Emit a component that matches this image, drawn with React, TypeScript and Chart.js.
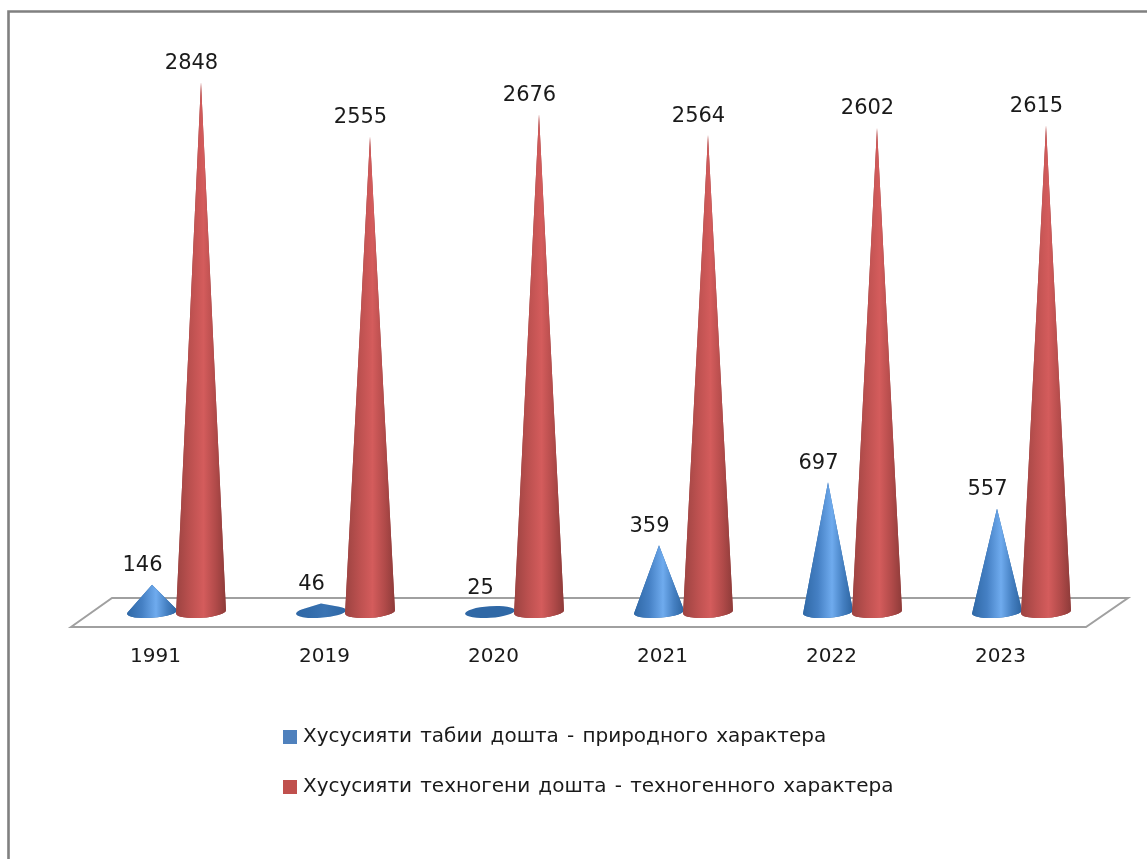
import React, { useEffect, useRef } from "react";
import { Chart, registerables } from "chart.js";

Chart.register(...registerables);

const categories = ["1991", "2019", "2020", "2021", "2022", "2023"];
const naturalValues = [146, 46, 25, 359, 697, 557];
const technogenicValues = [2848, 2555, 2676, 2564, 2602, 2615];
const naturalLabel = "Хусусияти табии дошта - природного характера";
const technogenicLabel = "Хусусияти техногени дошта - техногенного характера";
const naturalColor = "#4f81bd";
const technogenicColor = "#c0504d";
const FONT = '"DejaVu Sans"';

const darkTones = ["#2f68a6", "#9c4341"];
const gradients = [
  [[0, "#2f68a6"], [0.3, "#4580c4"], [0.58, "#6fabee"], [0.8, "#4580c2"], [1, "#2c639f"]],
  [[0, "#9c4341"], [0.3, "#bd5150"], [0.55, "#d45c5c"], [0.8, "#b04a49"], [1, "#8d3b39"]],
];

function cone(ctx: CanvasRenderingContext2D, bar: any, d: number) {
  const rx = bar.width / 2 + 0.5;
  const ry = 5.8;
  const tilt = -0.07;
  const h = bar.base - bar.y;
  const outline = () => {
    ctx.beginPath();
    if (h <= ry) {
      ctx.ellipse(bar.x, bar.base, rx, ry, tilt, 0, Math.PI * 2);
    } else {
      // silhouette: the base ellipse joined to the apex along its tangents
      const t = Math.asin(ry / h);
      ctx.ellipse(bar.x, bar.base, rx, ry, tilt, -t, Math.PI + t);
      ctx.lineTo(bar.x, bar.y);
      ctx.closePath();
    }
  };
  const g = ctx.createLinearGradient(bar.x - rx, 0, bar.x + rx, 0);
  gradients[d].forEach(([p, c]: any) => g.addColorStop(p, c));
  ctx.save();
  ctx.fillStyle = darkTones[d];
  outline();
  ctx.fill();
  // the shading grows in with the height of the cone
  ctx.globalAlpha = Math.max(0, Math.min(1, (h - 5) / 20));
  ctx.fillStyle = g;
  outline();
  ctx.fill();
  ctx.restore();
}

const conePlugin = {
  id: "cones",
  beforeDatasetsDraw(chart: any) {
    const { ctx, chartArea: a } = chart;
    const b = a.bottom;
    ctx.save();
    ctx.strokeStyle = "#a0a0a0";
    ctx.lineWidth = 2;
    ctx.beginPath();
    ctx.moveTo(a.left - 21, b + 15);
    ctx.lineTo(a.left + 20, b - 14);
    ctx.lineTo(a.right + 22, b - 14);
    ctx.lineTo(a.right - 20, b + 15);
    ctx.closePath();
    ctx.stroke();
    ctx.restore();
  },
  beforeDatasetDraw() {
    return false;
  },
  afterDatasetsDraw(chart: any) {
    const { ctx } = chart;
    const n = categories.length;
    for (let i = 0; i < n; i++) {
      chart.data.datasets.forEach((ds: any, d: number) => {
        cone(ctx, chart.getDatasetMeta(d).data[i], d);
      });
    }
    ctx.save();
    ctx.fillStyle = "#1a1a1a";
    ctx.font = `21px ${FONT}`;
    ctx.textAlign = "center";
    ctx.textBaseline = "middle";
    chart.data.datasets.forEach((ds: any, d: number) => {
      chart.getDatasetMeta(d).data.forEach((bar: any, i: number) => {
        ctx.fillText(String(ds.data[i]), bar.x - 9.5, bar.y - 19);
      });
    });
    ctx.restore();
  },
  afterDraw(chart: any) {
    const { ctx, width, height } = chart;
    ctx.save();
    ctx.strokeStyle = "#808080";
    ctx.lineWidth = 2.6;
    ctx.beginPath();
    ctx.moveTo(8.5, height);
    ctx.lineTo(8.5, 11.5);
    ctx.lineTo(width, 11.5);
    ctx.stroke();
    ctx.font = `20px ${FONT}`;
    (ctx as any).wordSpacing = "1.8px";
    ctx.textBaseline = "middle";
    ctx.textAlign = "left";
    chart.data.datasets.forEach((ds: any, d: number) => {
      const y = 737 + d * 50;
      ctx.fillStyle = ds.backgroundColor;
      ctx.fillRect(283, y - 7, 14, 14);
      ctx.fillStyle = "#1a1a1a";
      ctx.fillText(ds.label, 303, y);
    });
    ctx.restore();
  },
};

export default function App() {
  const ref = useRef<HTMLCanvasElement>(null);
  useEffect(() => {
    const chart = new Chart(ref.current!, {
      type: "bar",
      data: {
        labels: categories,
        datasets: [
          { label: naturalLabel, data: naturalValues, backgroundColor: naturalColor },
          { label: technogenicLabel, data: technogenicValues, backgroundColor: technogenicColor },
        ],
      },
      options: {
        responsive: false,
        animation: false,
        layout: { padding: { left: 92, right: 41, top: 54, bottom: 0 } },
        datasets: { bar: { categoryPercentage: 98 / 169, barPercentage: 1 } },
        plugins: { legend: { display: false }, tooltip: { enabled: false } },
        scales: {
          x: {
            grid: { display: false, drawTicks: false },
            border: { display: false },
            afterFit: (axis: any) => {
              axis.height = 247;
            },
            ticks: {
              padding: 33,
              labelOffset: -21,
              maxRotation: 0,
              color: "#1a1a1a",
              font: { family: FONT, size: 20 },
            },
          },
          y: { display: false, min: 0, max: 3000 },
        },
      },
      plugins: [conePlugin],
    } as any);
    return () => chart.destroy();
  }, []);
  return (
    <div style={{ position: "absolute", left: 0, top: 0, width: 1147, height: 859 }}>
      <canvas
        ref={ref}
        width={1147}
        height={859}
        style={{ display: "block", background: "#fff", filter: "blur(0.4px)" }}
      />
    </div>
  );
}
